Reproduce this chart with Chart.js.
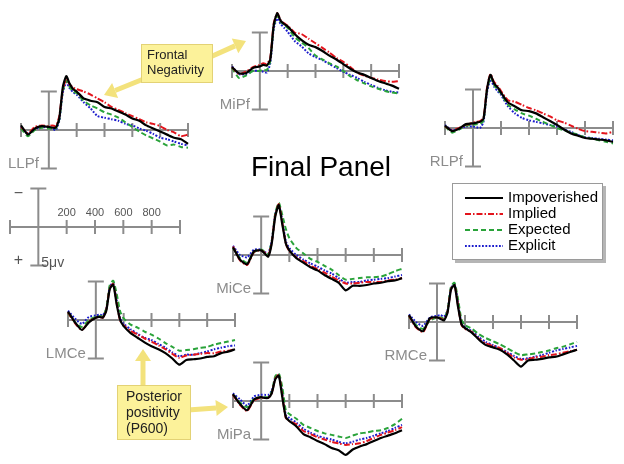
<!DOCTYPE html>
<html>
<head>
<meta charset="utf-8">
<script src="https://cdn.jsdelivr.net/npm/chart.js@4.4.1/dist/chart.umd.min.js"></script>
<style>
  body { margin: 0; background: #fff; }
  #wrap { position: relative; width: 624px; height: 464px; }
  #wrap canvas { position: absolute; left: 0; top: 0; }
</style>
</head>
<body>
<div id="wrap"></div>
<script>
// sample times (ms) shared by every waveform
const times = [-200,-150,-100,-50,0,25,50,75,100,125,150,175,200,250,300,350,400,450,500,550,600,650,700,750,800,850,900,950,1000];
const conditions = ['Impoverished', 'Implied', 'Expected', 'Explicit'];
const tickTimes = [-200, 200, 400, 600, 800, 1000];
const scaleTickLabels = [200, 400, 600, 800];

// amplitudes in microvolts (negative plotted up)
const llpfImpoverished = [-0.6,0.6,-0.2,-0.5,-0.4,-0.3,-0.3,-1.5,-5.5,-7.0,-6.0,-5.3,-5.0,-4.1,-3.8,-3.6,-3.0,-2.8,-2.4,-2.0,-1.5,-1.2,-0.6,-0.2,0.2,0.6,1.0,1.2,1.8];
const llpfImplied      = [-0.4,0.4,-0.4,-0.6,-0.5,-0.6,-0.5,-1.8,-5.2,-6.6,-5.9,-5.5,-5.3,-5.0,-4.6,-4.1,-3.6,-3.0,-2.6,-2.2,-1.8,-1.4,-1.0,-0.8,-0.5,0.0,0.3,0.8,0.6];
const llpfExpected     = [-0.2,0.8,0.0,-0.3,-0.2,-0.2,-0.2,-1.4,-5.0,-6.4,-5.6,-5.0,-4.8,-3.8,-3.2,-2.8,-2.3,-2.0,-1.6,-1.0,-0.4,0.2,0.7,1.1,1.5,2.0,1.9,2.2,2.3];
const llpfExplicit     = [-0.4,0.5,-0.1,-0.4,-0.3,-0.2,0.0,-1.2,-4.8,-6.2,-5.4,-4.9,-4.6,-3.6,-2.8,-1.8,-1.6,-1.4,-1.2,-0.8,-0.6,-0.2,0.1,0.5,1.0,1.2,1.5,1.8,2.0];

const mipfImpoverished = [-0.5,0.3,0.3,-0.4,-0.6,-0.8,-0.7,-1.5,-6.0,-7.5,-6.5,-6.1,-5.8,-4.8,-4.0,-3.4,-3.1,-2.6,-2.0,-1.5,-0.9,-0.3,0.2,0.5,0.9,1.3,1.6,1.9,2.3];
const mipfImplied      = [-0.5,0.4,0.1,-0.5,-0.8,-1.0,-0.9,-1.7,-6.2,-7.5,-6.6,-6.2,-5.9,-5.0,-4.8,-4.2,-3.6,-3.0,-2.4,-1.7,-1.2,-0.5,0.2,0.6,0.9,1.1,1.3,1.4,1.3];
const mipfExpected     = [-0.4,0.9,0.6,0.0,0.0,-0.2,-0.1,-1.3,-5.8,-7.2,-6.4,-6.0,-5.6,-4.4,-3.7,-3.0,-2.0,-1.5,-1.0,-0.6,0.0,0.7,1.2,1.6,2.0,2.3,2.6,2.8,2.9];
const mipfExplicit     = [-0.6,0.4,0.4,0.0,0.0,0.1,0.2,-1.0,-5.5,-6.8,-6.1,-5.6,-5.1,-3.9,-3.2,-2.3,-1.8,-1.4,-0.9,-0.4,0.1,0.5,0.9,1.4,1.8,2.2,2.5,2.7,2.8];

const rlpfImpoverished = [-0.3,0.4,0.1,-0.5,-0.6,-0.7,-0.8,-1.2,-5.0,-6.9,-5.8,-5.3,-4.6,-3.3,-2.8,-2.3,-2.2,-1.9,-1.4,-0.9,-0.4,0.2,0.7,1.0,1.3,1.4,1.5,1.6,1.8];
const rlpfImplied      = [-0.2,0.3,0.0,-0.4,-0.7,-0.8,-0.9,-1.3,-5.2,-7.0,-6.0,-5.5,-4.8,-3.6,-3.4,-3.0,-2.6,-2.3,-1.9,-1.5,-1.0,-0.7,-0.3,0.1,0.4,0.5,0.6,0.7,0.5];
const rlpfExpected     = [-0.2,0.6,0.2,-0.3,-0.4,-0.5,-0.5,-1.0,-4.9,-6.6,-5.6,-5.0,-4.5,-3.0,-2.4,-1.9,-1.6,-1.2,-0.8,-0.4,0.0,0.3,0.6,0.9,1.2,1.4,1.6,1.8,2.0];
const rlpfExplicit     = [-0.4,0.3,0.1,-0.2,-0.2,-0.1,0.0,-0.8,-4.6,-6.3,-5.4,-4.8,-4.3,-2.8,-1.9,-1.3,-1.0,-0.8,-0.6,-0.4,-0.2,0.2,0.5,0.9,1.2,1.3,1.4,1.5,1.6];

const miceImpoverished = [-1.0,0.6,1.2,-0.5,-0.6,-0.2,0.2,-1.5,-5.0,-6.5,-4.0,-1.5,-0.6,0.4,1.0,1.6,2.0,2.6,3.1,3.6,4.6,4.0,4.0,3.9,3.7,3.6,3.4,3.3,3.0];
const miceImplied      = [-1.1,0.7,1.3,-0.4,-0.6,-0.3,0.1,-1.6,-5.2,-6.6,-4.2,-1.5,-0.5,0.3,0.8,1.4,1.8,2.3,2.8,3.3,3.7,3.7,3.6,3.5,3.5,3.5,3.3,3.2,3.0];
const miceExpected     = [-0.9,0.4,1.0,-0.4,-0.7,-0.4,0.0,-1.8,-5.4,-6.8,-5.2,-3.4,-2.2,-0.9,-0.2,0.5,0.9,1.4,1.9,2.6,3.2,3.1,3.0,2.9,2.9,2.8,2.5,2.1,1.8];
const miceExplicit     = [-1.2,0.0,0.3,-0.7,-0.7,-0.4,-0.2,-1.8,-5.3,-6.5,-4.5,-1.8,-0.9,0.0,0.6,1.1,1.5,2.0,2.4,3.0,3.6,3.5,3.5,3.3,3.2,3.1,3.0,2.8,2.6];

const lmceImpoverished = [-1.1,0.3,1.3,0.3,-0.3,-0.4,-0.3,-1.2,-4.0,-4.6,-2.0,0.0,0.8,1.7,2.3,2.9,3.4,3.8,4.3,5.0,5.8,5.2,5.1,5.0,4.8,4.7,4.3,4.1,3.8];
const lmceImplied      = [-1.0,0.4,1.3,0.2,-0.3,-0.4,-0.3,-1.3,-4.1,-4.7,-2.2,0.1,0.7,1.4,1.9,2.4,2.8,3.3,3.8,4.4,4.9,4.6,4.5,4.4,4.3,4.3,4.1,4.0,3.8];
const lmceExpected     = [-0.9,0.3,0.9,0.0,-0.4,-0.5,-0.5,-1.5,-4.5,-5.1,-3.4,-1.1,-0.2,0.6,1.0,1.5,1.9,2.4,3.0,3.5,4.0,3.9,3.8,3.6,3.5,3.2,3.0,2.8,2.6];
const lmceExplicit     = [-1.2,-0.2,0.5,-0.4,-0.6,-0.7,-0.6,-1.4,-4.3,-4.8,-2.6,-0.2,0.5,1.2,1.8,2.3,2.6,3.1,3.6,4.2,4.7,4.5,4.5,4.3,4.1,3.8,3.6,3.4,3.3];

const rmceImpoverished = [-0.9,0.6,1.2,-0.5,-0.6,-0.4,-0.2,-1.2,-4.2,-4.8,-2.0,0.3,0.8,1.4,2.3,3.0,3.3,3.6,4.2,5.0,5.8,5.0,4.9,4.8,4.6,4.5,4.2,3.9,3.6];
const rmceImplied      = [-0.8,0.7,1.3,-0.4,-0.6,-0.5,-0.3,-1.3,-4.3,-4.8,-2.2,0.4,0.9,1.3,2.2,2.8,3.1,3.4,4.0,4.6,4.9,4.8,4.6,4.5,4.3,4.2,4.0,3.8,3.6];
const rmceExpected     = [-0.7,0.4,0.9,-0.2,-0.6,-0.6,-0.5,-1.5,-4.6,-5.1,-3.0,-0.3,0.4,0.9,1.6,2.1,2.5,2.9,3.4,3.9,4.3,4.2,4.1,3.9,3.7,3.4,3.2,2.9,2.6];
const rmceExplicit     = [-1.0,0.0,0.5,-0.6,-0.8,-0.9,-0.7,-1.5,-4.4,-4.9,-2.5,0.2,0.7,1.2,2.0,2.6,3.0,3.4,3.9,4.4,4.8,4.7,4.5,4.3,4.0,3.7,3.5,3.3,3.1];

const mipaImpoverished = [-0.9,0.4,1.2,-0.2,-0.5,-0.4,-0.4,-1.0,-2.8,-3.3,-0.5,2.1,2.6,3.3,4.3,4.7,5.2,5.6,6.1,6.4,7.0,6.3,5.9,5.6,5.2,4.8,4.5,4.2,3.8];
const mipaImplied      = [-0.8,0.5,1.3,-0.1,-0.4,-0.4,-0.4,-1.0,-2.9,-3.4,-0.7,2.2,2.6,3.0,3.9,4.3,4.7,5.0,5.3,5.5,5.7,5.6,5.5,5.2,4.8,4.4,4.1,3.8,3.4];
const mipaExpected     = [-0.8,0.2,0.8,-0.3,-0.5,-0.5,-0.5,-1.2,-3.2,-3.6,-1.8,1.2,1.7,2.3,3.1,3.5,3.9,4.2,4.4,4.6,4.8,4.5,4.2,4.1,3.9,3.8,3.5,3.0,2.3];
const mipaExplicit     = [-1.0,-0.2,0.6,-0.6,-0.8,-0.8,-0.8,-1.3,-3.0,-3.4,-1.0,1.8,2.2,2.8,3.6,4.1,4.5,4.8,5.0,5.3,5.5,5.3,5.0,4.8,4.5,4.2,3.9,3.5,3.1];

// line styles per condition
const lineColors = ['#000000', '#e3141c', '#2aa33a', '#1c1ccc'];
const lineDashes = [[], [6, 2, 1.5, 2], [5, 3], [1.8, 1.6]];
const lineWidths = [2.2, 2, 2, 2];
const axisGray = '#8c8c8c';
const pxPerUv = 7.7;
const yLow = -9, yHigh = 8;

// where each electrode sits on the page
const panels = [
  { name: 'LLPf', left: 21,  right: 188, axisY: 130, series: [llpfImpoverished, llpfImplied, llpfExpected, llpfExplicit] },
  { name: 'MiPf', left: 232, right: 399, axisY: 71,  series: [mipfImpoverished, mipfImplied, mipfExpected, mipfExplicit] },
  { name: 'RLPf', left: 445, right: 613, axisY: 128, series: [rlpfImpoverished, rlpfImplied, rlpfExpected, rlpfExplicit] },
  { name: 'MiCe', left: 233, right: 402, axisY: 255, series: [miceImpoverished, miceImplied, miceExpected, miceExplicit] },
  { name: 'LMCe', left: 68,  right: 235, axisY: 320, series: [lmceImpoverished, lmceImplied, lmceExpected, lmceExplicit] },
  { name: 'RMCe', left: 409, right: 577, axisY: 322, series: [rmceImpoverished, rmceImplied, rmceExpected, rmceExplicit] },
  { name: 'MiPa', left: 233, right: 402, axisY: 401, series: [mipaImpoverished, mipaImplied, mipaExpected, mipaExplicit] },
  { name: null,   left: 10,  right: 180, axisY: 227, series: null }   // calibration cross
];

const FONT = '"Liberation Sans", Arial, Helvetica, sans-serif';

// cross-shaped axes drawn from the chart's own scales
const erpAxes = {
  id: 'erpAxes',
  beforeDatasetsDraw(chart, args, opts) {
    const { ctx } = chart;
    const x = chart.scales.x, y = chart.scales.y;
    const y0 = y.getPixelForValue(0), x0 = x.getPixelForValue(0);
    const yTop = y.getPixelForValue(-5), yBot = y.getPixelForValue(5);
    ctx.save();
    ctx.strokeStyle = axisGray;
    ctx.lineWidth = 2;
    ctx.beginPath();
    ctx.moveTo(x.getPixelForValue(-200), y0);
    ctx.lineTo(x.getPixelForValue(1000), y0);
    tickTimes.forEach(t => {
      const px = x.getPixelForValue(t);
      ctx.moveTo(px, y0 - 7);
      ctx.lineTo(px, y0 + 7);
    });
    ctx.moveTo(x0, yTop); ctx.lineTo(x0, yBot);
    ctx.moveTo(x0 - 8, yTop); ctx.lineTo(x0 + 8, yTop);
    ctx.moveTo(x0 - 8, yBot); ctx.lineTo(x0 + 8, yBot);
    ctx.stroke();

    if (opts.label) {
      ctx.fillStyle = axisGray;
      ctx.font = '15px ' + FONT;
      ctx.textAlign = 'right';
      ctx.textBaseline = 'alphabetic';
      ctx.fillText(opts.label, x0 - 10, yBot - 1);
    }
    if (opts.calibration) {
      ctx.fillStyle = '#555';
      ctx.font = '11px ' + FONT;
      ctx.textAlign = 'center';
      scaleTickLabels.forEach(t => ctx.fillText(String(t), x.getPixelForValue(t), y0 - 11));
      ctx.font = '16px ' + FONT;
      ctx.fillText('\u2212', x0 - 20, yTop + 9);
      ctx.fillText('+', x0 - 20, yBot - 1);
      ctx.textAlign = 'left';
      ctx.font = '14px ' + FONT;
      ctx.fillText('5\u03bcv', x0 + 3, yBot + 1);
    }
    ctx.restore();
  }
};

function drawArrow(ctx, x1, y1, x2, y2) {
  const ang = Math.atan2(y2 - y1, x2 - x1);
  const head = 12;
  ctx.save();
  ctx.strokeStyle = '#f3e27c';
  ctx.fillStyle = '#f3e27c';
  ctx.lineWidth = 5;
  ctx.beginPath();
  ctx.moveTo(x1, y1);
  ctx.lineTo(x2 - Math.cos(ang) * head, y2 - Math.sin(ang) * head);
  ctx.stroke();
  ctx.beginPath();
  ctx.moveTo(x2, y2);
  ctx.lineTo(x2 - Math.cos(ang) * head + Math.cos(ang + Math.PI / 2) * 8, y2 - Math.sin(ang) * head + Math.sin(ang + Math.PI / 2) * 8);
  ctx.lineTo(x2 - Math.cos(ang) * head - Math.cos(ang + Math.PI / 2) * 8, y2 - Math.sin(ang) * head - Math.sin(ang + Math.PI / 2) * 8);
  ctx.closePath();
  ctx.fill();
  ctx.restore();
}

function drawCallout(ctx, bx, by, bw, bh, lines, fontSize, inset, lineStep) {
  ctx.save();
  ctx.fillStyle = '#fcf29a';
  ctx.strokeStyle = '#e3d275';
  ctx.lineWidth = 1;
  ctx.fillRect(bx, by, bw, bh);
  ctx.strokeRect(bx + 0.5, by + 0.5, bw - 1, bh - 1);
  ctx.fillStyle = '#222';
  ctx.font = fontSize + 'px ' + FONT;
  ctx.textAlign = 'left';
  lines.forEach((t, i) => ctx.fillText(t, bx + inset, by + fontSize + 2 + i * lineStep));
  ctx.restore();
}

// title, callouts and legend on the last canvas
const decor = {
  id: 'decor',
  afterDraw(chart) {
    const ctx = chart.ctx;
    ctx.save();
    ctx.fillStyle = '#000';
    ctx.font = '28px ' + FONT;
    ctx.textAlign = 'center';
    ctx.fillText('Final Panel', 321, 176);

    drawArrow(ctx, 146, 78, 104, 95);
    drawArrow(ctx, 208, 58, 246, 41);
    drawCallout(ctx, 141, 44, 72, 39, ['Frontal', 'Negativity'], 13, 6, 15);

    drawArrow(ctx, 143, 388, 143, 349);
    drawArrow(ctx, 188, 410, 228, 407);
    drawCallout(ctx, 117, 385, 74, 55, ['Posterior', 'positivity', '(P600)'], 14, 9, 16);

    // legend box
    ctx.fillStyle = '#b5b5b5';
    ctx.fillRect(455, 186, 151, 77);
    ctx.fillStyle = '#fff';
    ctx.fillRect(452, 183, 151, 77);
    ctx.strokeStyle = '#9a9a9a';
    ctx.lineWidth = 1;
    ctx.strokeRect(452.5, 183.5, 150, 76);
    ctx.font = '15px ' + FONT;
    ctx.textAlign = 'left';
    ctx.textBaseline = 'middle';
    conditions.forEach((c, i) => {
      const yy = 198 + i * 16;
      ctx.strokeStyle = lineColors[i];
      ctx.lineWidth = lineWidths[i];
      ctx.setLineDash(lineDashes[i]);
      ctx.beginPath();
      ctx.moveTo(465, yy);
      ctx.lineTo(503, yy);
      ctx.stroke();
      ctx.setLineDash([]);
      ctx.fillStyle = '#000';
      ctx.fillText(c, 508, yy);
    });
    ctx.restore();
  }
};

const wrap = document.getElementById('wrap');
panels.forEach((p, idx) => {
  const canvas = document.createElement('canvas');
  canvas.width = 624;
  canvas.height = 464;
  wrap.appendChild(canvas);
  const datasets = p.series ? p.series.map((vals, i) => ({
    label: conditions[i],
    data: times.map((t, j) => ({ x: t, y: vals[j] })),
    borderColor: lineColors[i],
    borderDash: lineDashes[i],
    borderWidth: lineWidths[i],
    pointRadius: 0,
    tension: 0.2,
    fill: false,
    clip: false
  })) : [];
  const isLast = idx === panels.length - 1;
  new Chart(canvas, {
    type: 'line',
    data: { datasets },
    options: {
      responsive: false,
      animation: false,
      layout: {
        padding: {
          left: p.left,
          right: 624 - p.right,
          top: p.axisY + yLow * pxPerUv,
          bottom: 464 - (p.axisY + yHigh * pxPerUv)
        }
      },
      scales: {
        x: { type: 'linear', min: -200, max: 1000, display: false },
        y: { type: 'linear', min: yLow, max: yHigh, reverse: true, display: false }
      },
      plugins: {
        legend: { display: false },
        tooltip: { enabled: false },
        erpAxes: { label: p.name, calibration: !p.series }
      }
    },
    plugins: isLast ? [erpAxes, decor] : [erpAxes]
  });
});
</script>
</body>
</html>
